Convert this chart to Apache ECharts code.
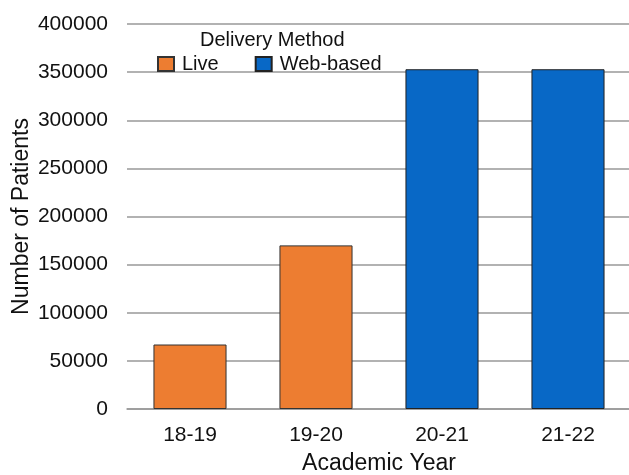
<!DOCTYPE html>
<html>
<head>
<meta charset="utf-8">
<script src="https://cdn.jsdelivr.net/npm/echarts@6/dist/echarts.min.js"></script>
<style>
  html, body { margin: 0; padding: 0; background: #fff; }
  #chart { width: 629px; height: 475px; }
</style>
</head>
<body>
<div id="chart"></div>
<script>
  // academic years on x axis
  const years = ['18-19', '19-20', '20-21', '21-22'];
  // patients per year, split by delivery method
  const liveData = [67000, 170000, null, null];
  const webData = [null, null, 353000, 353000];

  const chart = echarts.init(document.getElementById('chart'));
  const font = 'Liberation Sans, Arial, sans-serif';

  const option = {
    backgroundColor: '#fff',
    animation: false,
    title: {
      text: 'Delivery Method',
      left: 200,
      top: 30,
      padding: 0,
      textStyle: { fontFamily: font, fontSize: 20, fontWeight: 'normal', color: '#111' }
    },
    legend: {
      data: ['Live', 'Web-based'],
      left: 157,
      top: 54,
      padding: 0,
      icon: 'rect',
      itemWidth: 16,
      itemHeight: 14,
      itemGap: 36,
      textStyle: { fontFamily: font, fontSize: 20, color: '#111', padding: [0, 0, 0, 3] }
    },
    grid: {
      left: 127,
      width: 504,
      top: 24,
      bottom: 66,
      outerBoundsMode: 'none'
    },
    xAxis: {
      type: 'category',
      data: years,
      name: 'Academic Year',
      nameLocation: 'middle',
      nameGap: 43,
      nameMoveOverlap: false,
      nameTextStyle: { fontFamily: font, fontSize: 23, color: '#111' },
      axisTick: { show: false },
      axisLine: { lineStyle: { color: '#999', width: 1.5 } },
      axisLabel: { fontFamily: font, fontSize: 21, color: '#111', margin: 16 }
    },
    yAxis: {
      type: 'value',
      min: 0,
      max: 400000,
      interval: 50000,
      name: 'Number of Patients',
      nameLocation: 'middle',
      nameGap: 94,
      nameMoveOverlap: false,
      nameTextStyle: { fontFamily: font, fontSize: 23, color: '#111' },
      axisLine: { show: false },
      axisTick: { show: false },
      axisLabel: {
        fontFamily: font, fontSize: 21, color: '#111', margin: 19,
        formatter: v => String(v)
      },
      splitLine: { lineStyle: { color: '#999', width: 1.5 } }
    },
    series: [
      {
        name: 'Live',
        type: 'bar',
        stack: 'total',
        data: liveData,
        barWidth: '58%',
        itemStyle: { color: '#ED7D31', borderColor: '#333', borderWidth: 1 }
      },
      {
        name: 'Web-based',
        type: 'bar',
        stack: 'total',
        data: webData,
        barWidth: '58%',
        itemStyle: { color: '#0868C6', borderColor: '#222', borderWidth: 1 }
      }
    ]
  };

  chart.setOption(option);
</script>
</body>
</html>
